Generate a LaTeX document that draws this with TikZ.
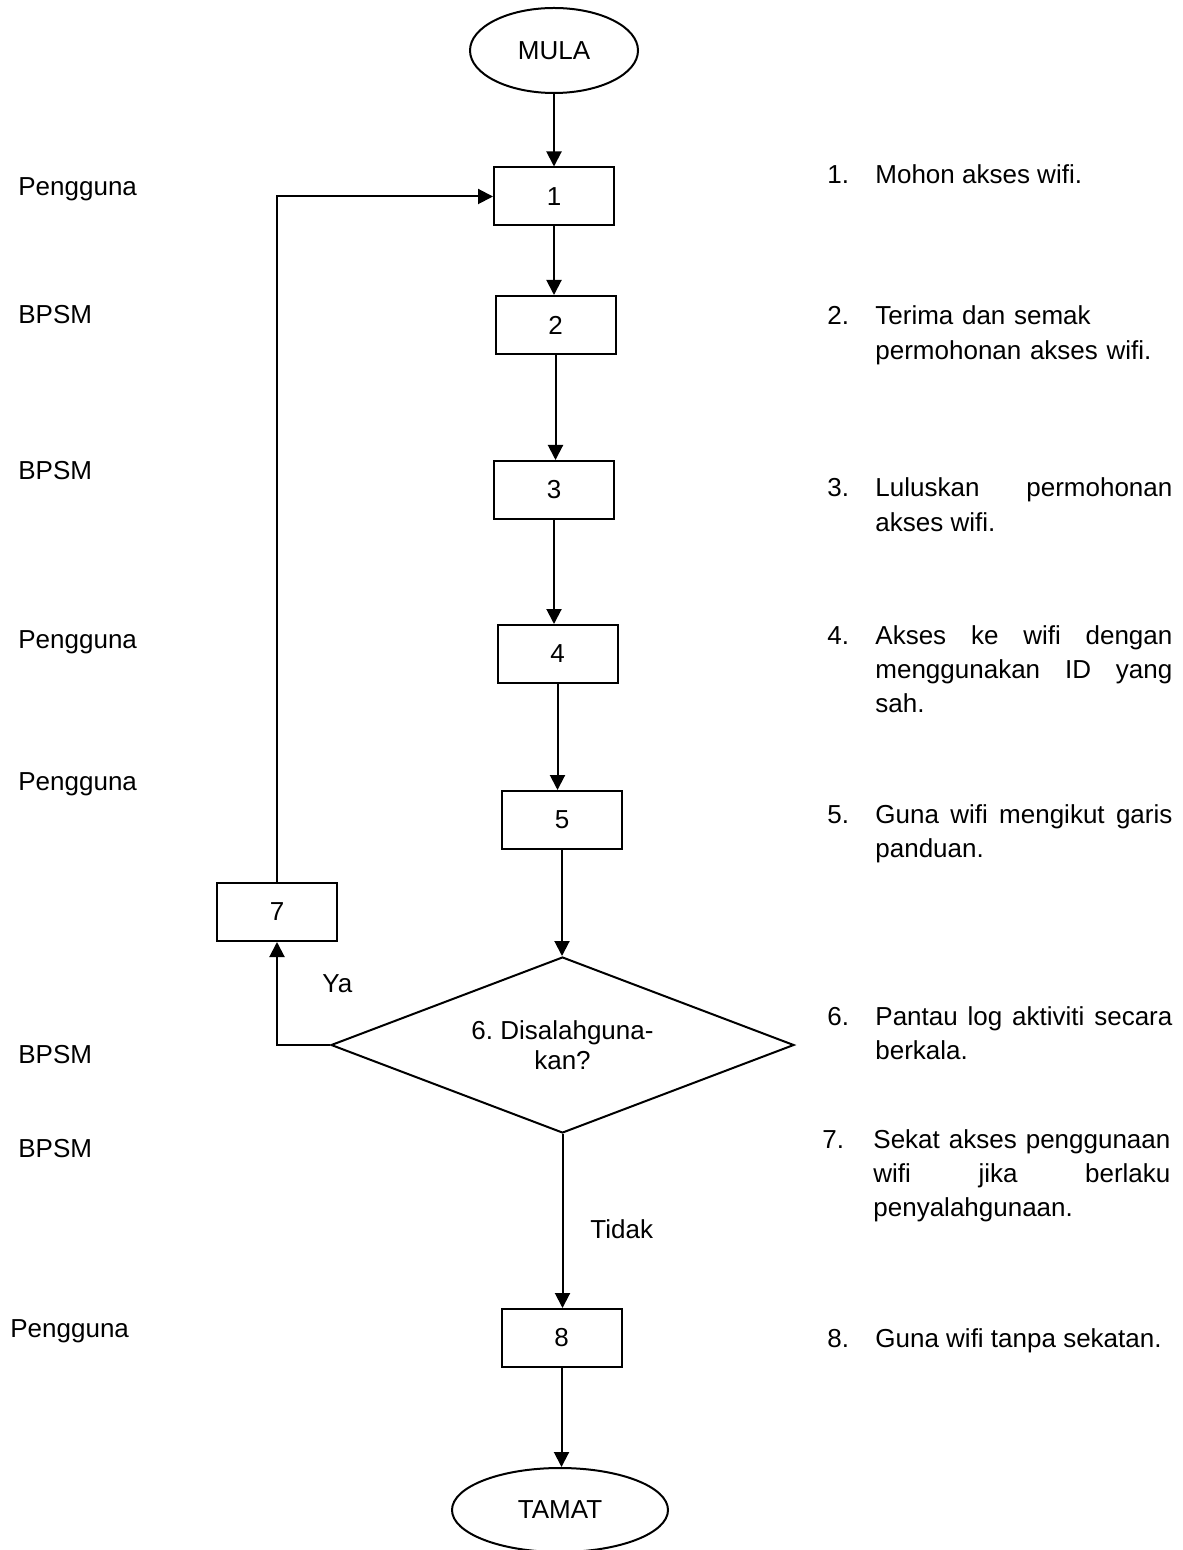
\documentclass[tikz,border=0pt]{standalone}
\usepackage{fontspec}
\setmainfont{Liberation Sans}
\usetikzlibrary{shapes.geometric,arrows.meta}
% no hyphenation, loose justified lines are fine
\hyphenpenalty=10000
\exhyphenpenalty=10000
\tolerance=9999
\emergencystretch=3em
\frenchspacing
\begin{document}
\begin{tikzpicture}[x=0.5pt,y=-0.5pt,
  every node/.style={font=\fontsize{13}{15}\selectfont, inner sep=0pt},
  arr/.style={line width=1pt,-{Triangle[length=7.5pt,width=7.5pt]}},
  stepbox/.style={draw,line width=1pt,minimum width=60pt,minimum height=29pt},
  terminal/.style={draw,ellipse,line width=1pt},
  decision/.style={draw,diamond,line width=1pt,minimum width=231.5pt,
    minimum height=88pt,aspect=2.63,align=center},
  role/.style={anchor=base west},
  num/.style={anchor=base west},
  desc/.style={anchor=base west,text width=148.5pt,align=justify,
    font=\fontsize{13}{17.2}\selectfont}]

\useasboundingbox (0,0) rectangle (1182,1550);

% flow column
\node[terminal,minimum width=84pt,minimum height=42.5pt] (mula) at (554,50.5) {MULA};
\node[stepbox] (b1) at (554,196.5) {1};
\node[stepbox] (b2) at (555.5,325) {2};
\node[stepbox] (b3) at (554,490) {3};
\node[stepbox] (b4) at (557.5,654) {4};
\node[stepbox] (b5) at (562,820) {5};
\node[decision] (dec) at (562.5,1045) {6. Disalahguna-\\kan?};
\node[stepbox] (b7) at (277,912) {7};
\node[stepbox] (b8) at (561.5,1338) {8};
\node[terminal,minimum width=108pt,minimum height=42pt] (tamat) at (560,1510) {TAMAT};

% connectors
\draw[arr] (mula.south) -- (mula.south |- b1.north);
\draw[arr] (b1.south) -- (b1.south |- b2.north);
\draw[arr] (b2.south) -- (b2.south |- b3.north);
\draw[arr] (b3.south) -- (b3.south |- b4.north);
\draw[arr] (b4.south) -- (b4.south |- b5.north);
\draw[arr] (b5.south) -- (b5.south |- dec.north);
\draw[arr] (dec.south) -- (dec.south |- b8.north);
\draw[arr] (b8.south) -- (b8.south |- tamat.north);
\draw[arr] (dec.west) -- (dec.west -| b7) -- (b7.south);
\draw[arr] (b7.north) |- (b1.west);

% branch labels
\node[anchor=base west] (ya) at (322,992) {Ya};
\node[anchor=base west] (tidak) at (590,1238) {Tidak};

% roles
\node[role] (r1) at (18,196) {Pengguna};
\node[role] (r2) at (18,324) {BPSM};
\node[role] (r3) at (18,480) {BPSM};
\node[role] (r4) at (18,648) {Pengguna};
\node[role] (r5) at (18,790) {Pengguna};
\node[role] (r6) at (18,1063) {BPSM};
\node[role] (r7) at (18,1157) {BPSM};
\node[role] (r8) at (10,1337) {Pengguna};

% step descriptions
\node[num] (n1) at (827,184) {1.};
\node[desc] (d1) at (875,184) {Mohon akses wifi.};
\node[num] (n2) at (827,325) {2.};
\node[desc,align=left] (d2) at (875,325) {Terima dan semak\\permohonan akses wifi.};
\node[num] (n3) at (827,497) {3.};
\node[desc] (d3) at (875,497) {Luluskan permohonan akses wifi.};
\node[num] (n4) at (827,644) {4.};
\node[desc] (d4) at (875,644) {Akses ke wifi dengan menggunakan ID yang sah.};
\node[num] (n5) at (827,823) {5.};
\node[desc] (d5) at (875,823) {Guna wifi mengikut garis panduan.};
\node[num] (n6) at (827,1025) {6.};
\node[desc] (d6) at (875,1025) {Pantau log aktiviti secara berkala.};
\node[num] (n7) at (822,1148) {7.};
\node[desc] (d7) at (873,1148) {Sekat akses penggunaan wifi jika berlaku penyalahgunaan.};
\node[num] (n8) at (827,1347) {8.};
\node[desc] (d8) at (875,1347) {Guna wifi tanpa sekatan.};
\end{tikzpicture}
\end{document}
